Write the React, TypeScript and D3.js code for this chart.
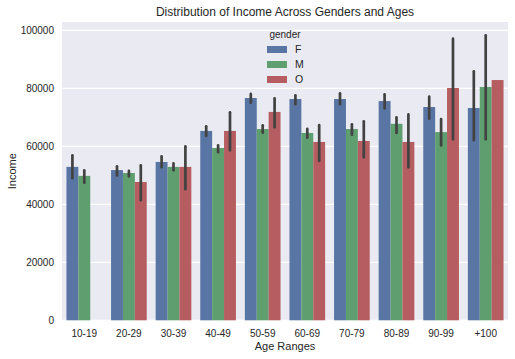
import React from "react";
import * as d3 from "d3";

const categories = ["10-19", "20-29", "30-39", "40-49", "50-59", "60-69", "70-79", "80-89", "90-99", "+100"];
const genders = ["F", "M", "O"];
const colors = ["#5975A4", "#5F9E6E", "#B55D60"];

const fValues = [52900, 51800, 54600, 65300, 76650, 76300, 76300, 75600, 73550, 73200];
const mValues = [49800, 50800, 52900, 59400, 65950, 64600, 65950, 67750, 64900, 80450];
const oValues: (number | null)[] = [null, 47700, 52900, 65300, 71850, 61500, 61850, 61500, 80100, 82850];

const fLow = [49000, 49900, 52800, 63550, 75050, 74500, 74500, 73100, 69500, 62100];
const fHigh = [56900, 53100, 56550, 66900, 78050, 77600, 78300, 77950, 77100, 85850];
const mLow = [47450, 49650, 51700, 57950, 64700, 62950, 64000, 64600, 60300, 62400];
const mHigh = [51700, 51500, 54150, 60350, 67250, 66050, 67600, 70000, 69400, 98300];
const oLow: (number | null)[] = [null, 41400, 45200, 58600, 66550, 54950, 56200, 52750, 62400, null];
const oHigh: (number | null)[] = [null, 53450, 60000, 71700, 76550, 67300, 68600, 71000, 97100, null];

const yTicks = [0, 20000, 40000, 60000, 80000, 100000];

const W = 515, H = 359;
const left = 62, right = 508, top = 22, bottom = 320.5;
const font = "'Liberation Sans', Arial, sans-serif";
const textColor = "#262626";

export default function App() {
  const x = d3.scaleBand<string>().domain(categories).range([left, right]).paddingInner(0.2).paddingOuter(0.1);
  const xg = d3.scaleBand<string>().domain(genders).range([0, x.bandwidth()]);
  const y = d3.scaleLinear().domain([0, 100000]).range([320.3, 30.3]);

  const series = [
    { vals: fValues as (number | null)[], lo: fLow as (number | null)[], hi: fHigh as (number | null)[] },
    { vals: mValues as (number | null)[], lo: mLow as (number | null)[], hi: mHigh as (number | null)[] },
    { vals: oValues, lo: oLow, hi: oHigh },
  ];

  return (
    <svg width={W} height={H} style={{ position: "absolute", left: 0, top: 0, background: "#fff" }}>
      <rect x={left} y={top} width={right - left} height={bottom - top} fill="#EAEAF2" />
      {yTicks.map((t) => (
        <line key={t} x1={left} x2={right} y1={y(t)} y2={y(t)} stroke="#fff" strokeWidth={1.2} />
      ))}
      {series.map((s, gi) =>
        categories.map((c, ci) => {
          const v = s.vals[ci];
          if (v == null) return null;
          const bx = (x(c) as number) + (xg(genders[gi]) as number);
          return (
            <rect key={`b${gi}-${ci}`} x={bx} y={y(v)} width={xg.bandwidth()} height={y(0) - y(v)} fill={colors[gi]} />
          );
        })
      )}
      {series.map((s, gi) =>
        categories.map((c, ci) => {
          const lo = s.lo[ci], hi = s.hi[ci];
          if (lo == null || hi == null) return null;
          const cx = (x(c) as number) + (xg(genders[gi]) as number) + xg.bandwidth() / 2;
          return (
            <line key={`e${gi}-${ci}`} x1={cx} x2={cx} y1={y(lo)} y2={y(hi)} stroke="#424242" strokeWidth={2.7} strokeLinecap="round" />
          );
        })
      )}
      {yTicks.map((t) => (
        <text key={`yt${t}`} x={54} y={y(t)} dy="0.35em" textAnchor="end" fontFamily={font} fontSize={10} fill={textColor}>
          {t}
        </text>
      ))}
      {categories.map((c) => (
        <text key={`xt${c}`} x={(x(c) as number) + x.bandwidth() / 2} y={337} textAnchor="middle" fontFamily={font} fontSize={10} fill={textColor}>
          {c}
        </text>
      ))}
      <text x={(left + right) / 2} y={350} textAnchor="middle" fontFamily={font} fontSize={11} fill={textColor}>Age Ranges</text>
      <text transform={`translate(16,${(top + bottom) / 2}) rotate(-90)`} textAnchor="middle" fontFamily={font} fontSize={11} fill={textColor}>Income</text>
      <text x={(left + right) / 2} y={16} textAnchor="middle" fontFamily={font} fontSize={12} fill={textColor}>Distribution of Income Across Genders and Ages</text>
      <text x={285} y={38} textAnchor="middle" fontFamily={font} fontSize={10} fill={textColor}>gender</text>
      {genders.map((g, i) => (
        <g key={`lg${g}`}>
          <rect x={267} y={46 + i * 15} width={20} height={7} fill={colors[i]} />
          <text x={295} y={49.5 + i * 15} dy="0.35em" fontFamily={font} fontSize={10.5} fill={textColor}>{g}</text>
        </g>
      ))}
    </svg>
  );
}
